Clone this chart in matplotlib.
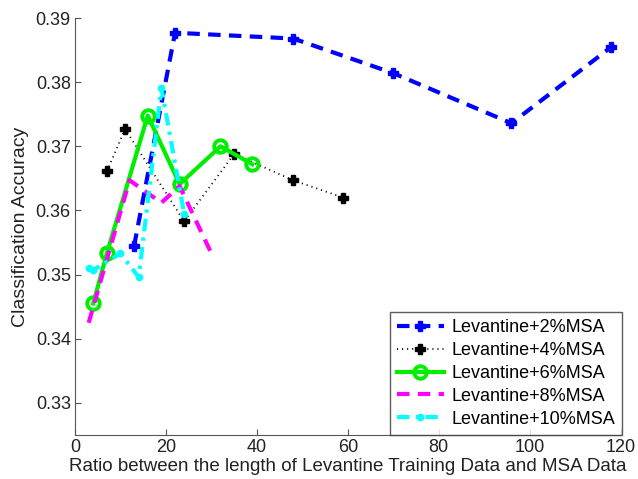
import matplotlib
matplotlib.use('Agg')
import matplotlib.pyplot as plt

plt.rcParams['font.family'] = ['Liberation Sans', 'DejaVu Sans']

# data
x2 = [13, 22, 48, 70, 96, 118]
y2 = [0.3545, 0.3877, 0.3868, 0.3814, 0.3736, 0.3855]

x4 = [7, 11, 24, 35, 48, 59]
y4 = [0.3661, 0.3727, 0.3583, 0.3688, 0.3647, 0.3620]

x6 = [4, 7, 16, 23, 32, 39]
y6 = [0.3455, 0.3533, 0.3748, 0.3641, 0.3700, 0.3672]

x8 = [3, 12, 19, 23, 30]
y8 = [0.3425, 0.3647, 0.3612, 0.3638, 0.3533]

x10 = [3, 4, 10, 14, 19, 24]
y10 = [0.3511, 0.3507, 0.3533, 0.3496, 0.3791, 0.3595]

labels = ['Levantine+2%MSA', 'Levantine+4%MSA', 'Levantine+6%MSA',
          'Levantine+8%MSA', 'Levantine+10%MSA']

fig = plt.figure(figsize=(6.38, 4.79), dpi=100)
ax = fig.add_axes([0.1176, 0.0919, 0.855, 0.8705])

ax.plot(x2, y2, color='blue', linestyle=(0, (3, 2)), linewidth=3,
        marker='P', markersize=6.5, label=labels[0])
ax.plot(x4, y4, color='black', linestyle=(0, (0.6, 2.2)), linewidth=1.3,
        marker='P', markersize=6.5, label=labels[1])
ax.plot(x6, y6, color='#00ee00', linestyle='-', linewidth=3,
        marker='o', markersize=9, markerfacecolor='none', markeredgewidth=2.8,
        label=labels[2])
ax.plot(x8, y8, color='magenta', linestyle=(0, (3, 2)), linewidth=3,
        label=labels[3])
ax.plot(x10, y10, color='cyan', linestyle=(0, (3, 1.5, 0.8, 1.5)), linewidth=3,
        marker='o', markersize=4.5, label=labels[4])

ax.set_xlim(0, 120)
ax.set_ylim(0.325, 0.39)
ax.set_xticks([0, 20, 40, 60, 80, 100, 120])
ax.set_yticks([0.33, 0.34, 0.35, 0.36, 0.37, 0.38, 0.39])
ax.set_yticklabels(['0.33', '0.34', '0.35', '0.36', '0.37', '0.38', '0.39'])

for s in ['top', 'right']:
    ax.spines[s].set_visible(False)
for s in ['left', 'bottom']:
    ax.spines[s].set_color('#555555')
ax.tick_params(direction='in', length=4, color='#555555', labelsize=13,
               labelcolor='#222222', pad=3)

ax.set_xlabel('Ratio between the length of Levantine Training Data and MSA Data',
              fontsize=13.5, color='#222222', labelpad=1)
ax.set_ylabel('Classification Accuracy', fontsize=14, color='#222222', labelpad=5)

leg = ax.legend(loc='lower right', bbox_to_anchor=(1.003, 0.0), fontsize=13,
                frameon=True, fancybox=False, handlelength=2.6,
                borderaxespad=0, labelspacing=0.33, handletextpad=0.4,
                borderpad=0.4)
leg.get_frame().set_edgecolor('#333333')
leg.get_frame().set_linewidth(1)

plt.savefig('out.png', dpi=100)
